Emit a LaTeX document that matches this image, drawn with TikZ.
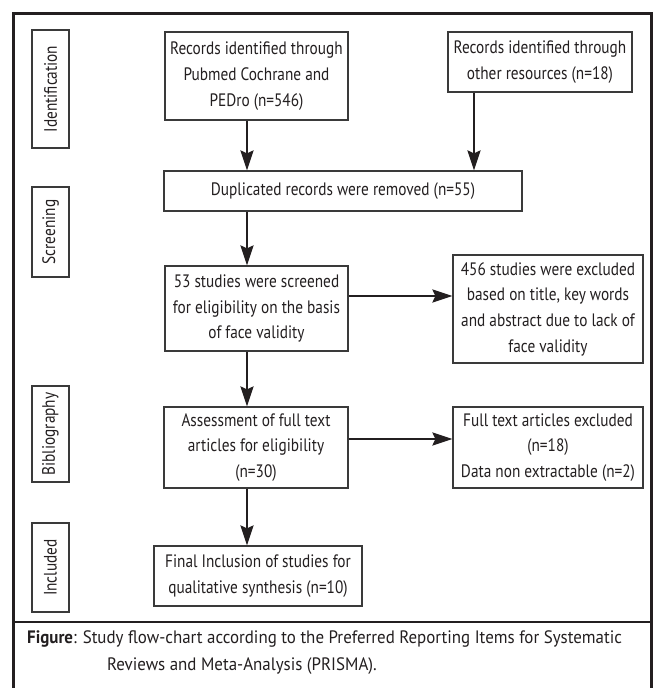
\documentclass[tikz,border=0pt]{standalone}
\usepackage{fontspec}
\setmainfont[FakeStretch=0.85]{PT Sans}
\newfontfamily\capfont[FakeStretch=0.94]{PT Sans}
\usetikzlibrary{arrows.meta}
\definecolor{ink}{HTML}{231F20}
\definecolor{boxline}{HTML}{3A3A3A}
\begin{document}
\begin{tikzpicture}[x=1pt,y=-1pt,
  box/.style={draw=boxline, line width=1.1pt, inner sep=0pt, align=center,
    font=\fontsize{18}{25.7}\selectfont, text=ink},
  lbl/.style={draw=boxline, line width=1.1pt, inner sep=0pt, rotate=90,
    minimum height=37pt, font=\fontsize{18}{20}\selectfont, text=ink},
  arr/.style={draw=ink, line width=2.6pt, -{Stealth[length=20pt,width=13pt,inset=3pt]}},
  captext/.style={anchor=base west, inner sep=0pt, font=\capfont\fontsize{18}{20}\selectfont, text=ink},
]
\useasboundingbox (0,0) rectangle (654,688);
\fill[white] (0,0) rectangle (654,688);
% frame
\draw[ink, line width=3pt] (13,690) -- (13,13) -- (651,13) -- (651,690);
\draw[ink, line width=1.2pt] (13,622) -- (651,622);
% stage labels
\node[lbl, minimum width=118pt] (lid) at (50.5,89) {Identification};
\node[lbl, minimum width=90pt] (lsc) at (50.5,232) {Screening};
\node[lbl, minimum width=96pt] (lbi) at (50.5,434) {Bibliography};
\node[lbl, minimum width=89pt] (lin) at (50.5,567.5) {Included};
% boxes
\node[box, minimum width=183pt, minimum height=88pt] (a) at (256.5,76)
  {Records identified through\\Pubmed Cochrane and\\PEDro (n=546)};
\node[box, minimum width=184pt, minimum height=60pt] (b) at (540,62)
  {Records identified through\\other resources (n=18)};
\node[box, minimum width=358pt, minimum height=40pt] (c) at (343,191)
  {Duplicated records were removed (n=55)};
\node[box, minimum width=183pt, minimum height=85pt] (d) at (256.5,308.5)
  {53 studies were screened\\for eligibility on the basis\\of face validity};
\node[box, minimum width=190pt, minimum height=108pt] (e) at (548,309)
  {456 studies were excluded\\based on title, key words\\and abstract due to lack of\\face validity};
\node[box, minimum width=184pt, minimum height=81pt] (f) at (256,447.5)
  {Assessment of full text\\articles for eligibility\\(n=30)};
\node[box, minimum width=190pt, minimum height=81pt] (h) at (548,447.5)
  {Full text articles excluded\\(n=18)\\Data non extractable (n=2)};
\node[box, minimum width=208pt, minimum height=60pt] (g) at (258,576)
  {Final Inclusion of studies for\\qualitative synthesis (n=10)};
% connector guides
\coordinate (ax) at (247,0);
\coordinate (bx) at (474,0);
\coordinate (dy) at (0,296);
\coordinate (fy) at (0,439);
% arrows
\draw[arr] (a.south -| ax) -- (c.north -| ax);
\draw[arr] (b.south -| bx) -- (c.north -| bx);
\draw[arr] (c.south -| ax) -- (d.north -| ax);
\draw[arr] (d.east |- dy) -- (e.west |- dy);
\draw[arr] (d.south -| ax) -- (f.north -| ax);
\draw[arr] (f.east |- fy) -- (h.west |- fy);
\draw[arr] (f.south -| ax) -- (g.north -| ax);
% caption
\node[captext] (cap1) at (27,643) {\textbf{Figure}: Study flow-chart according to the Preferred Reporting Items for Systematic};
\node[captext] (cap2) at (107,670) {Reviews and Meta-Analysis (PRISMA).};
\end{tikzpicture}
\end{document}
